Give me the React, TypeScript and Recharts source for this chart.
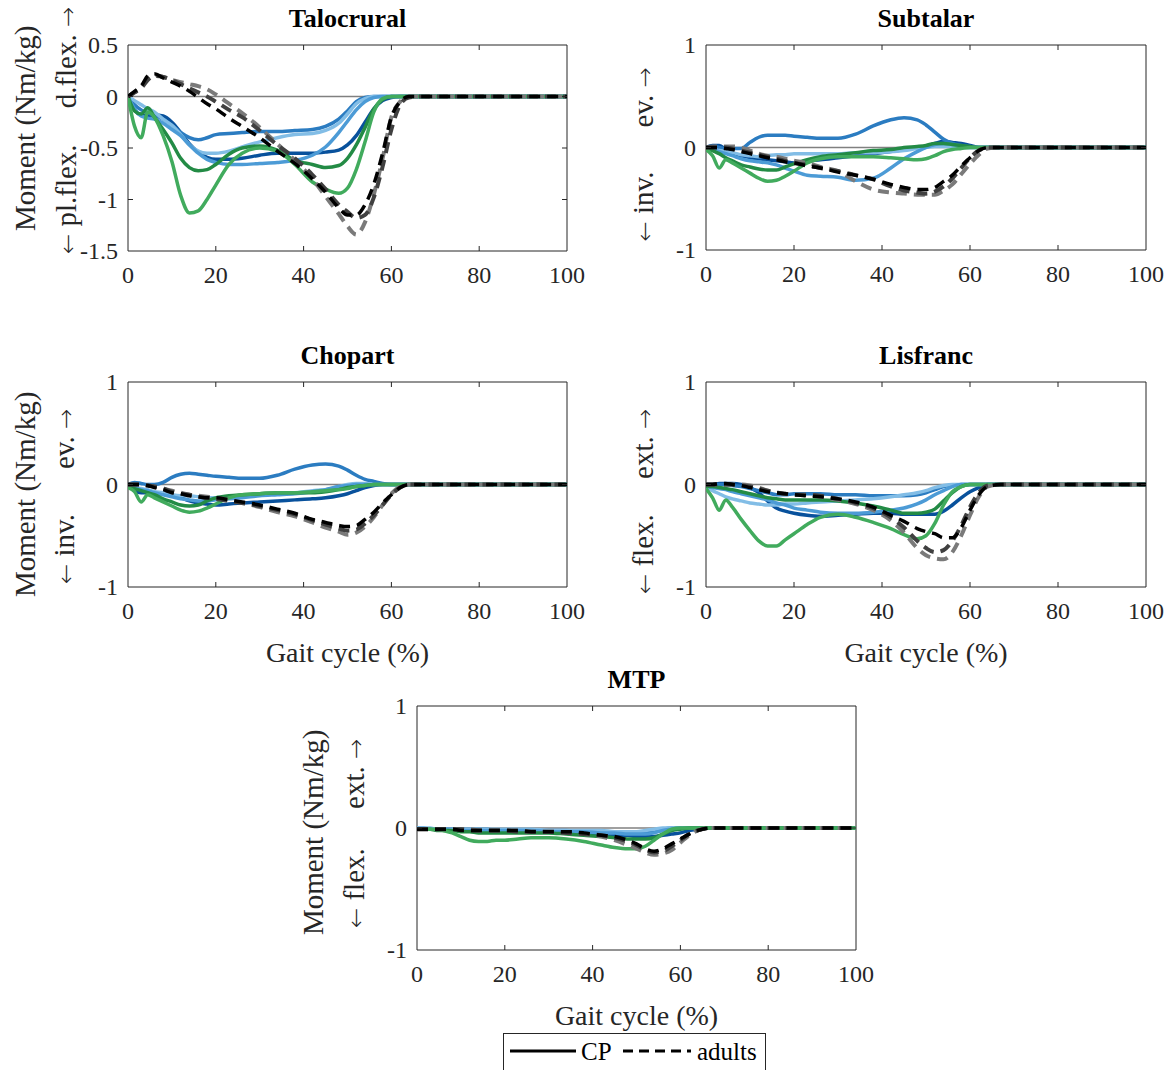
import React from 'react';
import { LineChart, Line, XAxis, YAxis, ReferenceLine, ReferenceArea } from 'recharts';

const FONT = "'Liberation Serif', 'Times New Roman', serif";
const ARROW_FONT = "'DejaVu Sans', sans-serif";
const AXIS = '#262626';

// gait cycle sample points (%)
const GAIT = [0, 1.5, 3, 4.5, 6, 8, 10, 12, 14, 16, 18, 20, 23, 26, 30, 34, 38, 42, 45, 48, 50, 52, 54, 56, 58, 60, 62, 64, 67, 70, 100];
const X_TICKS = [0, 20, 40, 60, 80, 100];

// ---------- Talocrural ----------
const TAL_A = [0, -0.13, -0.18, -0.19, -0.18, -0.19, -0.25, -0.35, -0.46, -0.54, -0.59, -0.61, -0.61, -0.6, -0.57, -0.55, -0.55, -0.55, -0.54, -0.52, -0.47, -0.38, -0.25, -0.12, -0.04, -0.01, 0, 0, 0, 0, 0];
const TAL_B = [0, -0.08, -0.13, -0.16, -0.18, -0.22, -0.28, -0.35, -0.4, -0.42, -0.4, -0.37, -0.36, -0.35, -0.34, -0.34, -0.33, -0.32, -0.29, -0.22, -0.14, -0.05, -0.01, 0, 0, 0, 0, 0, 0, 0, 0];
const TAL_C = [0, -0.04, -0.08, -0.12, -0.15, -0.22, -0.28, -0.37, -0.47, -0.53, -0.55, -0.55, -0.53, -0.49, -0.44, -0.4, -0.37, -0.36, -0.33, -0.26, -0.17, -0.07, -0.02, 0, 0, 0, 0, 0, 0, 0, 0];
const TAL_D = [0, -0.12, -0.19, -0.21, -0.22, -0.26, -0.32, -0.38, -0.47, -0.55, -0.61, -0.64, -0.66, -0.66, -0.65, -0.64, -0.62, -0.57, -0.49, -0.35, -0.24, -0.13, -0.05, -0.01, 0, 0, 0, 0, 0, 0, 0];
const TAL_E = [0, -0.14, -0.17, -0.11, -0.2, -0.32, -0.45, -0.6, -0.69, -0.72, -0.71, -0.66, -0.56, -0.5, -0.48, -0.52, -0.62, -0.66, -0.69, -0.67, -0.6, -0.47, -0.3, -0.12, -0.03, 0, 0, 0, 0, 0, 0];
const TAL_F = [0, -0.29, -0.4, -0.15, -0.2, -0.38, -0.63, -0.96, -1.13, -1.11, -1.0, -0.86, -0.66, -0.55, -0.5, -0.53, -0.66, -0.83, -0.9, -0.94, -0.89, -0.71, -0.44, -0.15, -0.02, 0, 0, 0, 0, 0, 0];
const TAL_K = [0, 0.05, 0.1, 0.2, 0.22, 0.18, 0.14, 0.1, 0.05, -0.01, -0.07, -0.12, -0.21, -0.29, -0.4, -0.53, -0.65, -0.8, -0.93, -1.08, -1.15, -1.15, -1.05, -0.85, -0.55, -0.2, -0.05, 0, 0, 0, 0];
const TAL_M = [0, 0.04, 0.08, 0.16, 0.2, 0.19, 0.16, 0.12, 0.08, 0.04, 0, -0.05, -0.13, -0.2, -0.33, -0.47, -0.6, -0.76, -0.9, -1.05, -1.12, -1.18, -1.15, -0.98, -0.68, -0.32, -0.08, -0.01, 0, 0, 0];
const TAL_L = [0, 0.04, 0.1, 0.18, 0.21, 0.19, 0.16, 0.14, 0.12, 0.1, 0.07, 0.02, -0.07, -0.16, -0.3, -0.46, -0.62, -0.8, -0.97, -1.14, -1.26, -1.34, -1.22, -0.95, -0.6, -0.2, -0.05, 0, 0, 0, 0];

// ---------- Subtalar ----------
const SUB_A = [0, 0.02, 0.02, -0.02, -0.06, -0.08, -0.1, -0.11, -0.12, -0.13, -0.14, -0.15, -0.13, -0.12, -0.1, -0.08, -0.06, -0.04, -0.02, 0, 0.01, 0.04, 0.06, 0.05, 0.04, 0.02, 0, 0, 0, 0, 0];
const SUB_B = [0, 0.01, 0, -0.01, -0.01, -0.01, 0.05, 0.1, 0.12, 0.12, 0.12, 0.11, 0.1, 0.09, 0.09, 0.13, 0.21, 0.27, 0.29, 0.27, 0.22, 0.15, 0.08, 0.04, 0.02, 0.01, 0, 0, 0, 0, 0];
const SUB_C = [0, -0.02, -0.03, -0.04, -0.05, -0.07, -0.08, -0.09, -0.08, -0.07, -0.07, -0.06, -0.06, -0.06, -0.06, -0.05, -0.05, -0.04, -0.03, -0.01, 0, 0.01, 0.01, 0.01, 0, 0, 0, 0, 0, 0, 0];
const SUB_D = [0, -0.02, -0.04, -0.06, -0.08, -0.11, -0.13, -0.14, -0.15, -0.17, -0.2, -0.23, -0.27, -0.28, -0.29, -0.32, -0.3, -0.2, -0.11, -0.04, 0, 0.03, 0.04, 0.03, 0.01, 0, 0, 0, 0, 0, 0];
const SUB_E = [0, -0.03, -0.06, -0.1, -0.13, -0.17, -0.19, -0.21, -0.22, -0.22, -0.19, -0.16, -0.12, -0.09, -0.07, -0.05, -0.03, -0.02, 0, 0.01, 0.02, 0.04, 0.04, 0.03, 0.02, 0.01, 0, 0, 0, 0, 0];
const SUB_F = [-0.02, -0.08, -0.2, -0.12, -0.15, -0.2, -0.25, -0.3, -0.33, -0.32, -0.28, -0.23, -0.15, -0.11, -0.09, -0.09, -0.09, -0.1, -0.11, -0.12, -0.11, -0.08, -0.04, -0.02, -0.01, 0, 0, 0, 0, 0, 0];
const SUB_K = [0, 0, 0, -0.01, -0.02, -0.04, -0.06, -0.08, -0.1, -0.12, -0.14, -0.15, -0.18, -0.2, -0.24, -0.27, -0.31, -0.36, -0.39, -0.41, -0.41, -0.39, -0.33, -0.27, -0.18, -0.1, -0.03, 0, 0, 0, 0];
const SUB_M = [0, 0, 0, 0, -0.01, -0.03, -0.05, -0.07, -0.09, -0.11, -0.13, -0.15, -0.17, -0.2, -0.23, -0.27, -0.31, -0.38, -0.42, -0.44, -0.45, -0.43, -0.38, -0.3, -0.2, -0.1, -0.03, 0, 0, 0, 0];
const SUB_L = [0, 0.01, 0.01, 0.01, 0.01, 0, -0.03, -0.06, -0.08, -0.09, -0.11, -0.13, -0.15, -0.19, -0.23, -0.33, -0.41, -0.44, -0.45, -0.46, -0.46, -0.46, -0.42, -0.36, -0.26, -0.16, -0.07, -0.01, 0, 0, 0];

// ---------- Chopart ----------
const CHO_A = [0, -0.06, -0.08, -0.08, -0.08, -0.09, -0.11, -0.13, -0.16, -0.18, -0.19, -0.2, -0.19, -0.18, -0.17, -0.16, -0.15, -0.14, -0.13, -0.11, -0.09, -0.06, -0.03, -0.01, 0, 0, 0, 0, 0, 0, 0];
const CHO_B = [0, 0.02, 0.01, 0, 0, 0.02, 0.07, 0.1, 0.11, 0.1, 0.09, 0.08, 0.07, 0.06, 0.06, 0.09, 0.15, 0.19, 0.2, 0.18, 0.14, 0.09, 0.05, 0.03, 0.01, 0, 0, 0, 0, 0, 0];
const CHO_C = [-0.01, -0.03, -0.04, -0.05, -0.07, -0.08, -0.1, -0.11, -0.11, -0.12, -0.13, -0.13, -0.12, -0.11, -0.1, -0.09, -0.08, -0.06, -0.05, -0.02, 0, 0.01, 0.01, 0, 0, 0, 0, 0, 0, 0, 0];
const CHO_D = [-0.01, -0.03, -0.05, -0.06, -0.08, -0.1, -0.12, -0.14, -0.15, -0.16, -0.16, -0.15, -0.14, -0.13, -0.11, -0.1, -0.09, -0.07, -0.05, -0.02, -0.01, 0, 0, 0, 0, 0, 0, 0, 0, 0, 0];
const CHO_E = [-0.02, -0.04, -0.06, -0.08, -0.1, -0.14, -0.17, -0.2, -0.21, -0.2, -0.16, -0.13, -0.11, -0.1, -0.09, -0.08, -0.08, -0.08, -0.07, -0.05, -0.03, -0.02, -0.01, 0, 0, 0, 0, 0, 0, 0, 0];
const CHO_F = [-0.03, -0.07, -0.17, -0.1, -0.13, -0.17, -0.21, -0.25, -0.27, -0.26, -0.23, -0.19, -0.13, -0.1, -0.09, -0.08, -0.08, -0.07, -0.06, -0.05, -0.04, -0.02, -0.01, 0, 0, 0, 0, 0, 0, 0, 0];
const CHO_K = [0, 0, 0, -0.01, -0.03, -0.05, -0.08, -0.09, -0.11, -0.12, -0.13, -0.13, -0.15, -0.17, -0.2, -0.24, -0.28, -0.34, -0.37, -0.4, -0.41, -0.4, -0.34, -0.27, -0.18, -0.1, -0.03, 0, 0, 0, 0];
const CHO_M = [0, 0, 0, -0.01, -0.02, -0.04, -0.07, -0.09, -0.1, -0.12, -0.13, -0.14, -0.16, -0.18, -0.21, -0.25, -0.29, -0.35, -0.39, -0.43, -0.45, -0.44, -0.38, -0.3, -0.2, -0.1, -0.03, 0, 0, 0, 0];
const CHO_L = [0, 0, 0, -0.01, -0.02, -0.04, -0.06, -0.08, -0.1, -0.11, -0.12, -0.13, -0.15, -0.18, -0.22, -0.27, -0.31, -0.37, -0.42, -0.46, -0.49, -0.47, -0.41, -0.32, -0.2, -0.09, -0.02, 0, 0, 0, 0];

// ---------- Lisfranc ----------
const LIS_A = [0, 0, 0.01, 0.01, 0.01, 0, -0.03, -0.08, -0.16, -0.23, -0.26, -0.28, -0.3, -0.31, -0.3, -0.29, -0.28, -0.28, -0.29, -0.29, -0.29, -0.29, -0.26, -0.2, -0.13, -0.07, -0.03, 0, 0, 0, 0];
const LIS_B = [0, 0, 0, 0, -0.01, -0.02, -0.04, -0.06, -0.08, -0.1, -0.1, -0.09, -0.09, -0.09, -0.1, -0.1, -0.11, -0.11, -0.11, -0.1, -0.08, -0.05, -0.02, -0.01, 0, 0, 0, 0, 0, 0, 0];
const LIS_C = [-0.02, -0.06, -0.09, -0.12, -0.14, -0.16, -0.18, -0.19, -0.2, -0.2, -0.19, -0.19, -0.18, -0.17, -0.16, -0.15, -0.14, -0.12, -0.1, -0.08, -0.06, -0.03, -0.01, 0, 0, 0, 0, 0, 0, 0, 0];
const LIS_D = [-0.01, -0.03, -0.04, -0.05, -0.07, -0.09, -0.11, -0.13, -0.15, -0.18, -0.2, -0.23, -0.25, -0.27, -0.28, -0.28, -0.27, -0.25, -0.23, -0.19, -0.15, -0.1, -0.06, -0.02, 0, 0, 0, 0, 0, 0, 0];
const LIS_E = [-0.02, -0.02, -0.03, -0.04, -0.05, -0.07, -0.09, -0.11, -0.13, -0.14, -0.15, -0.15, -0.15, -0.15, -0.16, -0.18, -0.21, -0.25, -0.28, -0.28, -0.27, -0.24, -0.16, -0.08, -0.02, 0, 0, 0, 0, 0, 0];
const LIS_F = [-0.04, -0.13, -0.25, -0.15, -0.22, -0.34, -0.45, -0.55, -0.6, -0.6, -0.54, -0.48, -0.39, -0.32, -0.29, -0.32, -0.37, -0.43, -0.49, -0.53, -0.5, -0.38, -0.2, -0.07, -0.02, 0, 0, 0, 0, 0, 0];
const LIS_K = [0, 0, 0.01, 0.01, 0, -0.01, -0.03, -0.05, -0.07, -0.08, -0.09, -0.1, -0.11, -0.12, -0.14, -0.17, -0.22, -0.3, -0.36, -0.43, -0.46, -0.48, -0.52, -0.52, -0.42, -0.25, -0.1, -0.02, 0, 0, 0];
const LIS_M = [0, 0, 0, 0, 0, -0.01, -0.02, -0.04, -0.06, -0.08, -0.09, -0.1, -0.1, -0.11, -0.14, -0.18, -0.23, -0.32, -0.42, -0.55, -0.62, -0.66, -0.64, -0.55, -0.4, -0.22, -0.08, -0.01, 0, 0, 0];
const LIS_L = [0, 0, 0, 0, 0, 0, -0.01, -0.03, -0.06, -0.08, -0.09, -0.1, -0.1, -0.12, -0.15, -0.19, -0.25, -0.35, -0.47, -0.62, -0.69, -0.72, -0.73, -0.66, -0.5, -0.3, -0.12, -0.02, 0, 0, 0];

// ---------- MTP ----------
const MTP_A = [-0.01, -0.01, -0.01, -0.01, -0.01, -0.01, -0.02, -0.02, -0.02, -0.02, -0.02, -0.02, -0.02, -0.03, -0.03, -0.03, -0.04, -0.05, -0.06, -0.06, -0.07, -0.07, -0.07, -0.06, -0.05, -0.04, -0.02, -0.01, 0, 0, 0];
const MTP_B = [0, 0, -0.01, -0.01, -0.01, -0.01, -0.01, -0.01, -0.01, -0.01, -0.02, -0.02, -0.02, -0.02, -0.02, -0.02, -0.03, -0.03, -0.03, -0.04, -0.04, -0.04, -0.03, -0.01, 0, 0, 0, 0, 0, 0, 0];
const MTP_C = [0, 0, 0, -0.01, -0.01, -0.01, -0.01, -0.01, -0.01, -0.01, -0.01, -0.01, -0.01, -0.01, -0.02, -0.02, -0.02, -0.02, -0.03, -0.03, -0.03, -0.02, -0.01, 0, 0, 0, 0, 0, 0, 0, 0];
const MTP_D = [-0.01, -0.01, -0.01, -0.01, -0.01, -0.02, -0.02, -0.02, -0.02, -0.02, -0.02, -0.02, -0.02, -0.02, -0.03, -0.03, -0.03, -0.04, -0.04, -0.05, -0.05, -0.05, -0.04, -0.02, -0.01, 0, 0, 0, 0, 0, 0];
const MTP_E = [-0.01, -0.01, -0.01, -0.02, -0.02, -0.02, -0.03, -0.03, -0.04, -0.04, -0.04, -0.04, -0.04, -0.04, -0.04, -0.05, -0.06, -0.07, -0.08, -0.09, -0.09, -0.09, -0.08, -0.05, -0.02, -0.01, 0, 0, 0, 0, 0];
const MTP_F = [-0.01, -0.01, -0.01, -0.01, -0.02, -0.04, -0.07, -0.1, -0.11, -0.11, -0.1, -0.1, -0.09, -0.08, -0.08, -0.09, -0.11, -0.14, -0.16, -0.17, -0.17, -0.15, -0.1, -0.05, -0.01, 0, 0, 0, 0, 0, 0];
const MTP_K = [-0.01, -0.01, -0.01, -0.01, -0.01, -0.01, -0.02, -0.02, -0.02, -0.02, -0.02, -0.02, -0.02, -0.03, -0.03, -0.03, -0.04, -0.06, -0.07, -0.1, -0.13, -0.17, -0.19, -0.17, -0.13, -0.09, -0.05, -0.02, 0, 0, 0];
const MTP_M = [-0.01, -0.01, -0.01, -0.01, -0.01, -0.01, -0.01, -0.02, -0.02, -0.02, -0.02, -0.02, -0.03, -0.03, -0.03, -0.04, -0.05, -0.06, -0.08, -0.11, -0.14, -0.18, -0.2, -0.19, -0.15, -0.1, -0.05, -0.02, 0, 0, 0];
const MTP_L = [-0.01, -0.01, -0.01, -0.01, -0.01, -0.01, -0.01, -0.01, -0.02, -0.02, -0.02, -0.02, -0.02, -0.03, -0.03, -0.04, -0.05, -0.07, -0.1, -0.14, -0.17, -0.2, -0.22, -0.21, -0.18, -0.12, -0.06, -0.02, 0, 0, 0];

// series styles (order: 6 CP subjects, then 3 adult means)
const SERIES = [
  { key: 'cp1', color: '#08519c', width: 3.5, dash: undefined as string | undefined },
  { key: 'cp2', color: '#2b7cc1', width: 3.5, dash: undefined },
  { key: 'cp3', color: '#82bde6', width: 3.5, dash: undefined },
  { key: 'cp4', color: '#4c9bd6', width: 3.5, dash: undefined },
  { key: 'cp5', color: '#238b45', width: 3.5, dash: undefined },
  { key: 'cp6', color: '#41ab5d', width: 3.5, dash: undefined },
  { key: 'ad1', color: '#7a7a7a', width: 4, dash: '11 7' },
  { key: 'ad2', color: '#404040', width: 4, dash: '11 7' },
  { key: 'ad3', color: '#000000', width: 3.5, dash: '11 7' },
];

type PanelDef = {
  title: string;
  left: number; top: number; w: number; h: number;
  domain: [number, number];
  yTicks: number[];
  series: number[][];
  label1?: { text: string; cx: number; cy: number };
  label2: { lo: string; hi: string; cx: number; cy: number; len: number };
  xLabel: boolean;
};

const PANELS: PanelDef[] = [
  {
    title: 'Talocrural', left: 128, top: 45, w: 439, h: 206,
    domain: [-1.5, 0.5], yTicks: [-1.5, -1, -0.5, 0, 0.5],
    series: [TAL_A, TAL_B, TAL_C, TAL_D, TAL_E, TAL_F, TAL_L, TAL_M, TAL_K],
    label1: { text: 'Moment (Nm/kg)', cx: 25, cy: 128 },
    label2: { lo: 'pl.flex.', hi: 'd.flex.', cx: 67, cy: 130, len: 247 },
    xLabel: false,
  },
  {
    title: 'Subtalar', left: 706, top: 45, w: 440, h: 205,
    domain: [-1, 1], yTicks: [-1, 0, 1],
    series: [SUB_A, SUB_B, SUB_C, SUB_D, SUB_E, SUB_F, SUB_L, SUB_M, SUB_K],
    label2: { lo: 'inv.', hi: 'ev.', cx: 644, cy: 154, len: 174 },
    xLabel: false,
  },
  {
    title: 'Chopart', left: 128, top: 382, w: 439, h: 205,
    domain: [-1, 1], yTicks: [-1, 0, 1],
    series: [CHO_A, CHO_B, CHO_C, CHO_D, CHO_E, CHO_F, CHO_L, CHO_M, CHO_K],
    label1: { text: 'Moment (Nm/kg)', cx: 25, cy: 494 },
    label2: { lo: 'inv.', hi: 'ev.', cx: 65, cy: 496, len: 175 },
    xLabel: true,
  },
  {
    title: 'Lisfranc', left: 706, top: 382, w: 440, h: 205,
    domain: [-1, 1], yTicks: [-1, 0, 1],
    series: [LIS_A, LIS_B, LIS_C, LIS_D, LIS_E, LIS_F, LIS_L, LIS_M, LIS_K],
    label2: { lo: 'flex.', hi: 'ext.', cx: 644, cy: 501, len: 185 },
    xLabel: true,
  },
  {
    title: 'MTP', left: 417, top: 706, w: 439, h: 244,
    domain: [-1, 1], yTicks: [-1, 0, 1],
    series: [MTP_A, MTP_B, MTP_C, MTP_D, MTP_E, MTP_F, MTP_L, MTP_M, MTP_K],
    label1: { text: 'Moment (Nm/kg)', cx: 313, cy: 832 },
    label2: { lo: 'flex.', hi: 'ext.', cx: 355, cy: 833, len: 189 },
    xLabel: true,
  },
];

const ML = 80, MR = 40, MT = 24, MB = 40;
const TICK_FS = 24;
const LABEL_FS = 29;
const TITLE_FS = 26;

function rotStyle(cx: number, cy: number, len: number): React.CSSProperties {
  const lh = LABEL_FS * 1.2;
  return {
    position: 'absolute', left: cx - len / 2, top: cy - lh / 2, width: len, height: lh,
    lineHeight: `${lh}px`, transform: 'rotate(-90deg)', transformOrigin: '50% 50%',
    fontFamily: FONT, fontSize: LABEL_FS, color: AXIS, whiteSpace: 'pre',
    display: 'flex', justifyContent: 'space-between', alignItems: 'center',
  };
}

const arrowStyle: React.CSSProperties = { fontFamily: ARROW_FONT, fontSize: 24, fontWeight: 200 };

function Panel({ d }: { d: PanelDef }) {
  const W = ML + d.w + MR;
  const H = MT + d.h + MB;
  const rows = GAIT.map((x, i) => {
    const r: Record<string, number> = { x };
    SERIES.forEach((s, j) => { r[s.key] = d.series[j][i]; });
    return r;
  });

  const xTick = (props: any) => {
    const { x, y, payload } = props;
    const v = payload.value;
    const inner = v > 0 && v < 100;
    return (
      <g>
        {inner && <line x1={x} x2={x} y1={y} y2={y - 5} stroke={AXIS} strokeWidth={1} />}
        {inner && <line x1={x} x2={x} y1={y - d.h} y2={y - d.h + 5} stroke={AXIS} strokeWidth={1} />}
        <text x={x} y={y + 32} textAnchor="middle" fontFamily={FONT} fontSize={TICK_FS} fill={AXIS}>{String(v)}</text>
      </g>
    );
  };
  const yTick = (props: any) => {
    const { x, y, payload } = props;
    const v = payload.value;
    const inner = v > d.domain[0] && v < d.domain[1];
    return (
      <g>
        {inner && <line x1={x} x2={x + 5} y1={y} y2={y} stroke={AXIS} strokeWidth={1} />}
        {inner && <line x1={x + d.w} x2={x + d.w - 5} y1={y} y2={y} stroke={AXIS} strokeWidth={1} />}
        <text x={x - 10} y={y + 8} textAnchor="end" fontFamily={FONT} fontSize={TICK_FS} fill={AXIS}>{String(v)}</text>
      </g>
    );
  };

  const cx = d.left + d.w / 2;
  return (
    <>
      <div style={{ position: 'absolute', left: d.left - ML, top: d.top - MT, width: W, height: H }}>
        <LineChart width={W} height={H} data={rows} margin={{ top: MT, right: MR, bottom: 0, left: 0 }}>
          <XAxis dataKey="x" type="number" domain={[0, 100]} ticks={X_TICKS} interval={0} height={MB}
            tickSize={0} tickMargin={0} axisLine={false} tickLine={false} tick={xTick} allowDataOverflow />
          <YAxis type="number" domain={d.domain} ticks={d.yTicks} interval={0} width={ML}
            tickSize={0} tickMargin={0} axisLine={false} tickLine={false} tick={yTick} allowDataOverflow />
          <ReferenceLine y={0} stroke="#808080" strokeWidth={1.5} />
          {SERIES.map((s) => (
            <Line key={s.key} dataKey={s.key} type="monotone" stroke={s.color} strokeWidth={s.width}
              strokeDasharray={s.dash} dot={false} activeDot={false} isAnimationActive={false} />
          ))}
          <ReferenceArea x1={0} x2={100} y1={d.domain[0]} y2={d.domain[1]} fill="none" fillOpacity={0}
            stroke={AXIS} strokeWidth={1} />
        </LineChart>
      </div>
      <div style={{
        position: 'absolute', left: cx - 150, width: 300, top: d.top - 26 - TITLE_FS * 0.51,
        fontSize: TITLE_FS, lineHeight: `${TITLE_FS}px`, fontWeight: 'bold', textAlign: 'center',
        fontFamily: FONT, color: '#000',
      }}>{d.title}</div>
      {d.xLabel && (
        <div style={{
          position: 'absolute', left: cx - 150, width: 300, top: d.top + d.h + 66 - 28 * 0.5,
          fontSize: 28, lineHeight: '28px', textAlign: 'center', fontFamily: FONT, color: AXIS,
        }}>Gait cycle (%)</div>
      )}
      {d.label1 && (
        <div style={{ ...rotStyle(d.label1.cx, d.label1.cy, 280), justifyContent: 'center' }}>{d.label1.text}</div>
      )}
      <div style={rotStyle(d.label2.cx, d.label2.cy, d.label2.len)}>
        <span><span style={arrowStyle}>←</span> {d.label2.lo}</span>
        <span>{d.label2.hi} <span style={arrowStyle}>→</span></span>
      </div>
    </>
  );
}

function LegendBox() {
  return (
    <svg style={{ position: 'absolute', left: 503, top: 1033 }} width={264} height={40}>
      <rect x={0.5} y={0.5} width={262} height={60} fill="#fff" stroke={AXIS} strokeWidth={1} />
      <line x1={7} x2={73} y1={18} y2={18} stroke="#000" strokeWidth={3} />
      <text x={78} y={27} fontFamily={FONT} fontSize={25} fill="#000">CP</text>
      <line x1={120} x2={188} y1={18} y2={18} stroke="#000" strokeWidth={3} strokeDasharray="10 6" />
      <text x={194} y={27} fontFamily={FONT} fontSize={25} fill="#000">adults</text>
    </svg>
  );
}

export default function App() {
  return (
    <div style={{ position: 'absolute', left: 0, top: 0, width: 1172, height: 1070, background: '#fff', overflow: 'hidden' }}>
      {PANELS.map((p) => <Panel key={p.title} d={p} />)}
      <LegendBox />
    </div>
  );
}
